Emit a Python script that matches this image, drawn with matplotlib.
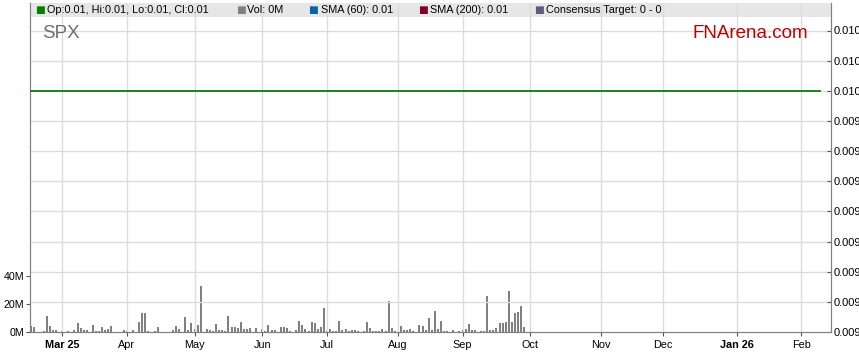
import numpy as np
import matplotlib.pyplot as plt
from matplotlib.patches import Rectangle

plt.rcParams['font.family'] = ['Liberation Sans', 'DejaVu Sans']

# daily volume (millions), one value per business day from start_date
start_date = '2025-02-17'
vol_m = [4.3, 3.5, 0, 0, 0.7, 11.4, 4.3, 1.2, 1.4, 0,
         0.5, 0, 0.7, 0, 1.2, 6.4, 2.8, 1.2, 1.4, 0,
         5, 1, 1, 3.5, 1.7, 2.1, 4.3, 0, 0, 0,
         1.4, 0.5, 0, 1.7, 0, 7.1, 13.5, 13.5, 0.7, 0,
         0.7, 3.5, 0, 0, 0, 0, 1.4, 4.3, 1.9, 0,
         10.7, 1.4, 6.4, 2.4, 5, 32.7, 0, 2.1, 1.2, 1,
         5.7, 1.2, 1.4, 1, 11.4, 3.5, 3.5, 2.8, 7.1, 2.4,
         2.1, 2.8, 0, 2.8, 0, 2.1, 0.7, 5, 1.2, 1.4,
         0, 3.5, 3.5, 2.8, 0.7, 0, 1.4, 7.8, 5, 2.1,
         0.7, 7.1, 6.4, 2.1, 3.5, 17, 0.7, 2.1, 0.7, 0.7,
         7.8, 1.4, 2.1, 0.7, 1.4, 1.4, 0.7, 0, 0.7, 7.1,
         2.8, 0.7, 0.7, 0.7, 2.1, 0.7, 22, 2.8, 0.7, 0,
         4.3, 1.4, 1.4, 2.1, 0.7, 0, 5, 4.3, 1.4, 10,
         1.4, 15, 2.1, 7.8, 0.7, 0.7, 0, 1.4, 0, 0.7,
         1.4, 2.1, 5.7, 1.4, 1.4, 0, 0.7, 0.7, 25.6, 1.4,
         1.4, 2.8, 6.4, 6.4, 7.1, 29, 7.1, 13.5, 14.2, 18.5,
         3.5]

# close price line (flat)
close_dates = ['2025-02-17', '2026-02-10']
close_vals = [0.01, 0.01]

tick_dates = ['2025-03-03', '2025-04-01', '2025-05-01', '2025-06-02',
              '2025-07-01', '2025-08-01', '2025-09-01', '2025-10-01',
              '2025-11-03', '2025-12-01', '2026-01-02', '2026-02-02']
tick_labels = ['Mar 25', 'Apr', 'May', 'Jun', 'Jul', 'Aug', 'Sep', 'Oct',
               'Nov', 'Dec', 'Jan 26', 'Feb']
bold_labels = ['Mar 25', 'Jan 26']

price_ticks = [0.0102, 0.0101, 0.0100, 0.0099, 0.0098, 0.0097,
               0.0096, 0.0095, 0.0094, 0.0093, 0.0092]
price_labels = ['0.010', '0.010', '0.010', '0.009', '0.009', '0.009',
                '0.009', '0.009', '0.009', '0.009', '0.009']
vol_ticks = [0, 20, 40]
vol_labels = ['0M', '20M', '40M']

# (text, swatch colour, swatch x, text x) in pixels
legend_items = [('Op:0.01, Hi:0.01, Lo:0.01, Cl:0.01', '#008000', 35, 47),
                ('Vol: 0M', '#808080', 236, 247),
                ('SMA (60): 0.01', '#0064a8', 308, 321),
                ('SMA (200): 0.01', '#80002a', 418, 430),
                ('Consensus Target: 0 - 0', '#5c5c80', 534, 546)]


def bday_index(d):
    return np.busday_count(np.datetime64(start_date), np.datetime64(d))


W, H = 859, 363
fig = plt.figure(figsize=(W / 100, H / 100), dpi=100)
ax = fig.add_axes([30 / W, 31 / H, 801 / W, 329 / H])
axv = ax.twinx()

grid_c = '#dcdcdc'
spine_c = '#808080'

# header band
ax.add_patch(Rectangle((0, 1 - 13.5 / 329), 1, 13.5 / 329, transform=ax.transAxes,
                       facecolor='#e6e6e6', edgecolor='none', zorder=0))

xs = np.arange(len(vol_m))
axv.bar(xs, vol_m, width=0.65, color='#808080', zorder=2)

cx = [bday_index(d) for d in close_dates]
ax.plot(cx, close_vals, color='#008000', lw=1.3, zorder=4)
ax.set_zorder(axv.get_zorder() + 1)
ax.patch.set_visible(False)

ax.set_xlim(-0.42, 259.6)
ax.set_ylim(0.0092, 0.0092 + 329 / 30.15 * 0.0001)
axv.set_ylim(0, 329 / 1.4)

# grid
tx = [bday_index(d) for d in tick_dates]
for t in tx:
    ax.axvline(t, color=grid_c, lw=1, zorder=1)
for p in price_ticks[:-1]:
    ax.axhline(p, color=grid_c, lw=1, zorder=1)

ax.set_xticks(tx)
ax.set_xticklabels(tick_labels, fontsize=7.8)
for lab in ax.get_xticklabels():
    if lab.get_text() in bold_labels:
        lab.set_fontweight('bold')
ax.tick_params(axis='x', direction='out', length=3, pad=3, color='#555555')

ax.yaxis.tick_right()
ax.set_yticks(price_ticks)
ax.set_yticklabels(price_labels, fontsize=8)
ax.tick_params(axis='y', direction='in', length=3, pad=2, color='#555555')

axv.yaxis.tick_left()
axv.set_yticks(vol_ticks)
axv.set_yticklabels(vol_labels, fontsize=7.7)
axv.tick_params(axis='y', direction='out', length=3, pad=1, color='#555555')

for a in (ax, axv):
    a.spines['top'].set_visible(False)
    for s in ('left', 'right', 'bottom'):
        a.spines[s].set_color(spine_c)

# header legend
for text, col, sx, tx_ in legend_items:
    fig.text(sx / W, 1 - 10 / H, '\u25A0', color=col, fontsize=7.5, va='center',
             ha='left', family='DejaVu Sans')
    fig.text(tx_ / W, 1 - 10 / H, text, fontsize=7.8, va='center', ha='left')

fig.text(42 / W, 1 - 38 / H, 'SPX', fontsize=13.5, color='#6e6e6e', va='baseline')
fig.text(808 / W, 1 - 38 / H, 'FNArena.com', fontsize=13.5, color='#c00000',
         va='baseline', ha='right')

fig.savefig('out.png', dpi=100)
